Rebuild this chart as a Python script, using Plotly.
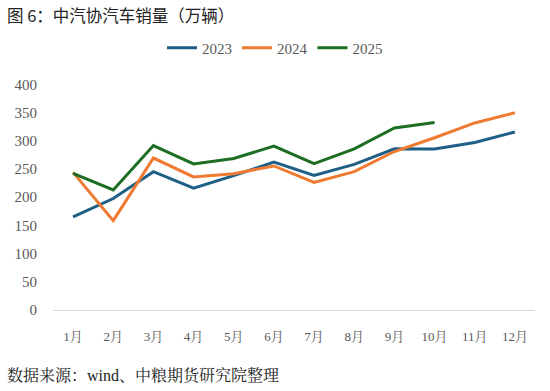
import plotly.graph_objects as go

months = ["1月", "2月", "3月", "4月", "5月", "6月", "7月", "8月", "9月", "10月", "11月", "12月"]
sales_2023 = [164.9, 197.6, 245.1, 215.9, 238.2, 262.2, 238.7, 258.2, 285.8, 285.3, 297.0, 315.6]
sales_2024 = [243.9, 158.4, 269.4, 235.9, 241.7, 255.3, 226.2, 245.3, 280.9, 305.3, 331.6, 349.6]
sales_2025 = [242.3, 212.9, 291.5, 259.0, 268.6, 290.4, 259.3, 285.7, 322.6, 332.2]

series = [("2023", sales_2023, "#1F5F86"), ("2024", sales_2024, "#EF7A31"), ("2025", sales_2025, "#1D6E22")]

fig = go.Figure()
for name, vals, color in series:
    fig.add_trace(go.Scatter(x=months[:len(vals)], y=vals, name=name, mode="lines",
                             line=dict(color=color, width=3)))

serif = "Liberation Serif, Noto Serif CJK SC, Noto Sans CJK SC, serif"
fig.update_layout(
    width=550, height=391,
    margin=dict(l=53, r=15, t=83, b=81),
    paper_bgcolor="white", plot_bgcolor="white",
    font=dict(family=serif, size=13, color="#595959"),
    showlegend=True,
    legend=dict(orientation="h", xref="container", x=0.5, xanchor="center",
                yref="container", y=0.877, yanchor="middle",
                font=dict(size=15, color="#595959"), itemwidth=30, tracegroupgap=0),
    xaxis=dict(type="category", range=[-0.5, 11.5], showgrid=False, showline=True,
               linecolor="#D9D9D9", linewidth=1, ticks="", tickfont=dict(size=13, color="#595959"),
               zeroline=False, ticklabelstandoff=14),
    yaxis=dict(range=[0, 400], dtick=50, showgrid=False, showline=False, zeroline=False,
               ticks="", tickfont=dict(size=15, color="#595959"), ticklabelstandoff=15),
    annotations=[
        dict(text="图 6：中汽协汽车销量（万辆）", xref="paper", yref="paper", x=-0.1, y=1.307,
             xanchor="left", yanchor="middle", showarrow=False,
             font=dict(family="Noto Sans CJK SC", size=16.5, color="#222222")),
        dict(text="数据来源：wind、中粮期货研究院整理", xref="paper", yref="paper", x=-0.1, y=-0.29,
             xanchor="left", yanchor="middle", showarrow=False,
             font=dict(family="Liberation Serif, Noto Serif CJK SC, Noto Sans CJK SC", size=16, color="#222222")),
    ],
)
fig.write_html("out.html", config={"displayModeBar": False},
               post_script="document.body.style.margin='0';document.body.style.padding='0';")
